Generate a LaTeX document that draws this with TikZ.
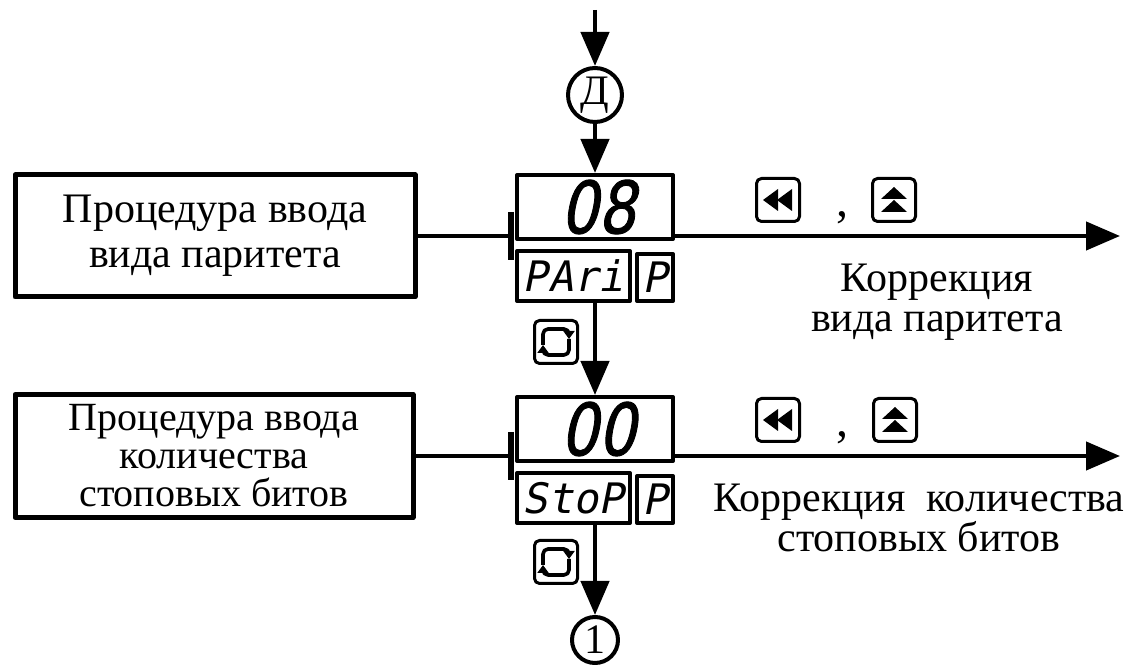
\documentclass[tikz,border=0pt]{standalone}
\usepackage{fontspec}
\setmainfont{Liberation Serif}
\newfontfamily\segfont[FakeSlant=0.2,FakeStretch=0.82,FakeBold=1.2]{DejaVu Sans}
\newfontfamily\namefont[FakeSlant=0.2]{DejaVu Sans Mono}
\usetikzlibrary{arrows.meta,positioning,calc}

\begin{document}
\begin{tikzpicture}[x=0.5pt,y=-0.5pt,line join=round,
    proc node/.style={draw,line width=2.5pt,minimum width=200pt,minimum height=61pt,align=center,inner sep=0pt,font=\fontsize{21}{22.5}\selectfont},
    disp node/.style={draw,line width=2pt,minimum width=78pt,minimum height=32pt,inner sep=0pt,font=\segfont\fontsize{36}{36}\selectfont},
    name node/.style={draw,line width=2pt,minimum width=56.5pt,minimum height=25pt,inner sep=0pt,font=\namefont\fontsize{21}{21}\selectfont},
    par node/.style={draw,line width=2pt,minimum width=18pt,minimum height=23.5pt,inner sep=0pt,font=\namefont\fontsize{21}{21}\selectfont},
    key node/.style={draw,line width=1.5pt,rounded corners=2.5pt,minimum size=21.5pt,inner sep=0pt},
    link node/.style={circle,draw,line width=2pt,inner sep=0pt,font=\fontsize{21}{22}\selectfont},
    note/.style={align=center,inner sep=0pt,font=\fontsize{21}{20}\selectfont},
    flow/.style={line width=2.2pt,-{Triangle[length=17pt,width=14pt]}},
    conn/.style={line width=2.2pt},
    teebar/.style={line width=2.6pt}]

  \path[fill=white] (0,0) rectangle (1124,672);
  \useasboundingbox (0,0) rectangle (1124,672);

  % entry and first display
  \coordinate (start) at (595,10);
  \node[link node,minimum size=27pt] (linkD) at (595,95) {Д};
  \node[disp node] (disp1) at (595,207) {\hspace{3pt}08};
  \node[name node,anchor=north west] (name1) at ([yshift=-4pt]disp1.south west) {PAri};
  \node[par node,anchor=south east] (par1) at (name1.south -| disp1.east) {P};
  \node[proc node] (proc1) at (215,236) {Процедура ввода\\вида паритета};
  \coordinate (tee1) at (511,236);
  \coordinate (out1) at (1120,236);

  % second display
  \node[disp node] (disp2) at (595,429) {\hspace{3pt}00};
  \node[name node,anchor=north west] (name2) at ([yshift=-4pt]disp2.south west) {StoP};
  \node[par node,anchor=south east] (par2) at (name2.south -| disp2.east) {P};
  \node[proc node,minimum width=199pt,minimum height=61.5pt,font=\fontsize{20}{19}\selectfont] (proc2) at (214,456) {Процедура ввода\\количества\\стоповых битов};
  \coordinate (tee2) at (511,456);
  \coordinate (out2) at (1120,456);
  \node[link node,minimum size=23pt] (link1) at (595,640) {1};

  % keys
  \node[key node] (rew1) at (778,200) {};
  \node[note,anchor=base,font=\fontsize{24}{24}\selectfont] (comma1) at (842,217) {,};
  \node[key node] (up1) at (894,200) {};
  \node[key node] (rew2) at (778,420) {};
  \node[note,anchor=base,font=\fontsize{24}{24}\selectfont] (comma2) at (842,437) {,};
  \node[key node] (up2) at (895,420) {};
  \node[key node] (cyc1) at (556,342) {};
  \node[key node] (cyc2) at (556,562) {};

  \node[note] (corr1) at (937,302) {Коррекция\\вида паритета};
  \node[note] (corr2) at (919,518) {Коррекция\ \ количества\\стоповых битов};

  % key icons
  \foreach \k in {rew1,rew2} {
    \fill ([xshift=-7.5pt]\k.center) -- ++(7.5pt,5.5pt) -- ++(0,-11pt) -- cycle;
    \fill ([xshift=-0.5pt]\k.center) -- ++(7.5pt,5.5pt) -- ++(0,-11pt) -- cycle;
  }
  \foreach \k in {up1,up2} {
    \fill ([yshift=6.5pt]\k.center) -- ++(-6.5pt,-6pt) -- ++(13pt,0) -- cycle;
    \fill (\k.center) -- ++(-6.5pt,-6pt) -- ++(13pt,0) -- cycle;
  }
  \foreach \k in {cyc1,cyc2} {
    \draw[line width=1.8pt,rounded corners=2.5pt,-{Triangle[length=4pt,width=5.5pt]}]
      ([shift={(-6.5pt,-1.5pt)}]\k.center) -- ++(0,8pt) -- ++(13pt,0) -- ++(0,-5pt);
    \draw[line width=1.8pt,rounded corners=2.5pt,-{Triangle[length=4pt,width=5.5pt]}]
      ([shift={(6.5pt,1.5pt)}]\k.center) -- ++(0,-8pt) -- ++(-13pt,0) -- ++(0,5pt);
  }

  % connectors
  \draw[flow] (start) -- (linkD);
  \draw[flow] (linkD) -- (disp1);
  \draw[flow] (disp1.south |- name1.south) -- (disp2.north);
  \draw[flow] (disp2.south |- name2.south) -- (link1);
  \draw[flow] (disp1.east |- out1) -- (out1);
  \draw[flow] (disp2.east |- out2) -- (out2);
  \draw[conn] (proc1.east) -- (tee1);
  \draw[conn] (proc2.east) -- (tee2);
  \draw[teebar] ([yshift=12pt]tee1) -- ([yshift=-12pt]tee1);
  \draw[teebar] ([yshift=12pt]tee2) -- ([yshift=-12pt]tee2);

\end{tikzpicture}
\end{document}
